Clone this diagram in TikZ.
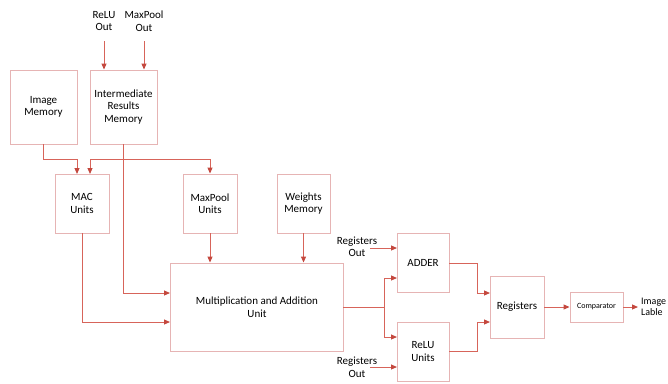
\documentclass[tikz,border=0pt]{standalone}
\usepackage{fontspec}
\setmainfont{Carlito}
\usetikzlibrary{arrows.meta}
\definecolor{boxc}{RGB}{230,180,180}
\definecolor{linec}{RGB}{215,100,90}
\definecolor{tipc}{RGB}{196,72,62}
\tikzset{
  blk/.style={draw=boxc, line width=0.9pt, inner sep=0pt, align=center, font=\fontsize{11}{12.5}\selectfont},
  lbl/.style={align=center, inner sep=0pt, font=\fontsize{11}{12.5}\selectfont},
  con/.style={draw=linec, line width=1pt, -{Triangle[length=6pt,width=5pt,color=tipc]}},
  ln/.style={draw=linec, line width=1pt}
}
\begin{document}
\begin{tikzpicture}[x=1pt,y=-1pt]
\useasboundingbox (0,0) rectangle (668,383);
% boxes
\node[blk, minimum width=67pt, minimum height=74pt] (img) at (43.5,107) {Image\\Memory};
\node[blk, minimum width=67pt, minimum height=74pt] (irm) at (123.5,107) {Intermediate\\Results\\Memory};
\node[blk, minimum width=54pt, minimum height=59pt] (mac) at (82,203.5) {MAC\\Units};
\node[blk, minimum width=54pt, minimum height=59pt] (mp) at (210,203.5) {MaxPool\\Units};
\node[blk, minimum width=53pt, minimum height=59pt] (wm) at (303.5,203.5) {Weights\\Memory};
\node[blk, minimum width=173pt, minimum height=88pt] (mau) at (256.5,307) {};
\node[lbl] at (257,307) {Multiplication and Addition\\Unit};
\node[blk, minimum width=52pt, minimum height=59pt] (add) at (423,262.5) {ADDER};
\node[blk, minimum width=52pt, minimum height=59pt] (relu) at (423,351.5) {ReLU\\Units};
\node[blk, minimum width=54pt, minimum height=62pt] (reg) at (517,307) {Registers};
\node[blk, minimum width=53pt, minimum height=30pt, font=\fontsize{8}{9.5}\selectfont] (cmp) at (596.5,307) {Comparator};
% labels
\node[lbl] (reluout) at (104,21) {ReLU\\Out};
\node[lbl] (mpout) at (144,21) {MaxPool\\Out};
\node[lbl] (rout1) at (357,247) {Registers\\Out};
\node[lbl] (rout2) at (357,367) {Registers\\Out};
\node[lbl, anchor=west, align=left, font=\fontsize{10}{11.5}\selectfont] (imlab) at (641,307) {Image\\Lable};
% junction coordinates
\coordinate (sp) at (384,307);
% connectors
\draw[con] (reluout.south |- 0,41) -- (reluout.south |- irm.north);
\draw[con] (mpout.south |- 0,41) -- (mpout.south |- irm.north);
\draw[con] (img.south) |- (77,159) -- (77,174);
\draw[ln] (90,159) -- (210,159);
\draw[con] (90,159) -- (90,174);
\draw[con] (210,159) -- (mp.north);
\draw[con] (irm.south) |- (170,293);
\draw[con] (mac.south) |- (170,322);
\draw[con] (mp.south) -- (mp.south |- mau.north);
\draw[con] (wm.south) -- (wm.south |- mau.north);
\draw[ln] (mau.east) -- (sp);
\draw[con] (sp) |- (397,278);
\draw[con] (sp) |- (397,337);
\draw[con] (370,248) -- (397,248);
\draw[con] (370,367) -- (397,367);
\draw[con] (449,263) -| (477,293) -- (490,293);
\draw[con] (449,351) -| (477,322) -- (490,322);
\draw[con] (reg.east) -- (cmp.west);
\draw[con] (cmp.east) -- (638,307);
\end{tikzpicture}
\end{document}
